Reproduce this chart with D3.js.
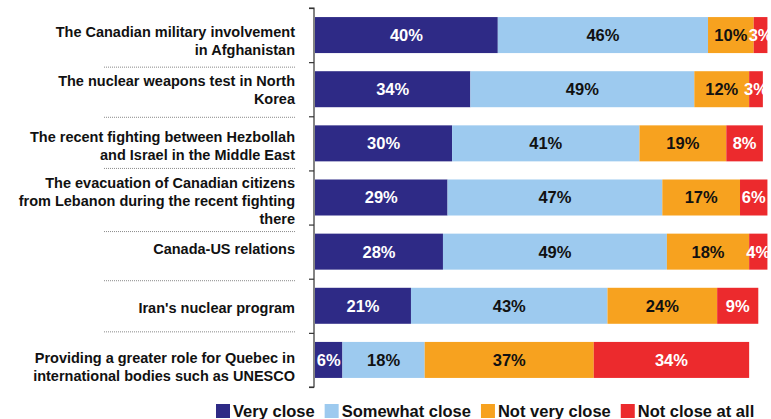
<!DOCTYPE html>
<html>
<head>
<meta charset="utf-8">
<script src="https://cdn.jsdelivr.net/npm/d3@7"></script>
<style>
  html, body { margin: 0; padding: 0; background: #fff; }
  svg { display: block; font-family: "Liberation Sans", Arial, Helvetica, sans-serif; }
</style>
</head>
<body>
<svg id="chart" width="771" height="419"></svg>
<script>
// Survey topics (each entry is a list of label lines)
const topics = [
  ["The Canadian military involvement", "in Afghanistan"],
  ["The nuclear weapons test in North", "Korea"],
  ["The recent fighting between Hezbollah", "and Israel in the Middle East"],
  ["The evacuation of Canadian citizens", "from Lebanon during the recent fighting", "there"],
  ["Canada-US relations"],
  ["Iran's nuclear program"],
  ["Providing a greater role for Quebec in", "international bodies such as UNESCO"]
];

const seriesNames = ["Very close", "Somewhat close", "Not very close", "Not close at all"];

// Percentages per topic, in series order
const veryClose     = [40, 34, 30, 29, 28, 21, 6];
const somewhatClose = [46, 49, 41, 47, 49, 43, 18];
const notVeryClose  = [10, 12, 19, 17, 18, 24, 37];
const notCloseAtAll = [3, 3, 8, 6, 4, 9, 34];

const colors = ["#2e2a86", "#9dcaef", "#f7a21f", "#ec2a2d"];
const textColors = ["#ffffff", "#111111", "#111111", "#ffffff"];

// small vertical nudges for the wrapped topic labels and separator rules
const labelShift = [6, 1, 2, 3, -3, 2, 7];
const ruleShift = [5, 1, -2, 7, 2, -1];

const rows = topics.map((t, i) => ({
  lines: t,
  values: [veryClose[i], somewhatClose[i], notVeryClose[i], notCloseAtAll[i]]
}));

const svg = d3.select("#chart");

const plotTop = 8, plotBottom = 387, axisX = 314;
const x = d3.scaleLinear().domain([0, 100]).range([axisX + 1, axisX + 1 + 457]);
const y = d3.scaleBand()
  .domain(d3.range(rows.length))
  .range([plotTop, plotBottom])
  .paddingInner(0.335)
  .paddingOuter(0.1675);

// Axis with ticks at the row boundaries
const yEdge = d3.scaleLinear().domain([0, rows.length]).range([plotTop, plotBottom]);
const axis = svg.append("g")
  .attr("transform", `translate(${axisX},0)`)
  .call(d3.axisLeft(yEdge).tickValues(d3.range(rows.length + 1)).tickSize(5).tickFormat(""));
axis.select(".domain").attr("stroke", "#333").attr("stroke-width", 1.2).attr("d", `M-5,${plotTop}H0V${plotBottom}H-5`);
axis.selectAll(".tick line").attr("stroke", "#333").attr("stroke-width", 1.2);

// Stacked bars
const stacked = rows.map(r => {
  let acc = 0;
  return r.values.map((v, k) => {
    const s = { x0: acc, x1: acc + v, v, k };
    acc += v;
    return s;
  });
});

const rowG = svg.append("g").selectAll("g")
  .data(stacked)
  .join("g")
  .attr("transform", (d, i) => `translate(0,${y(i)})`);

rowG.selectAll("rect")
  .data(d => d)
  .join("rect")
  .attr("x", d => x(d.x0))
  .attr("y", 0)
  .attr("width", d => x(d.x1) - x(d.x0))
  .attr("height", y.bandwidth())
  .attr("fill", d => colors[d.k]);

rowG.selectAll("text")
  .data(d => d)
  .join("text")
  .attr("x", d => (x(d.x0) + x(d.x1)) / 2)
  .attr("y", y.bandwidth() / 2)
  .attr("dy", "0.36em")
  .attr("text-anchor", "middle")
  .attr("font-size", 16.5)
  .attr("font-weight", "bold")
  .attr("fill", d => textColors[d.k])
  .text(d => d.v + "%");

// Topic labels
const lineH = 18;
const labelX = 295;
svg.append("g").selectAll("text")
  .data(rows)
  .join("text")
  .attr("text-anchor", "end")
  .attr("font-size", 14.5)
  .attr("font-weight", "bold")
  .attr("fill", "#111")
  .each(function(d, i) {
    const cy = y(i) + y.bandwidth() / 2 + labelShift[i];
    const n = d.lines.length;
    d3.select(this).selectAll("tspan")
      .data(d.lines)
      .join("tspan")
      .attr("x", labelX)
      .attr("y", (l, j) => cy + (j - (n - 1) / 2) * lineH)
      .attr("dy", "0.36em")
      .text(l => l);
  });

// Dotted rules between topic labels
svg.append("g").selectAll("line")
  .data(d3.range(1, rows.length))
  .join("line")
  .attr("x1", 104)
  .attr("x2", 296)
  .attr("y1", i => yEdge(i) + ruleShift[i - 1])
  .attr("y2", i => yEdge(i) + ruleShift[i - 1])
  .attr("stroke", "#8a8a8a")
  .attr("stroke-width", 1)
  .attr("stroke-dasharray", "1,1");

// Legend
const legend = svg.append("g").attr("transform", "translate(216,0)");
let lx = 0;
seriesNames.forEach((name, k) => {
  legend.append("rect")
    .attr("x", lx).attr("y", 404)
    .attr("width", 14).attr("height", 14)
    .attr("fill", colors[k]);
  const t = legend.append("text")
    .attr("x", lx + 17).attr("y", 417)
    .attr("font-size", 16.5)
    .attr("font-weight", "bold")
    .attr("fill", "#111")
    .text(name);
  lx += 17 + t.node().getComputedTextLength() + 10;
});
</script>
</body>
</html>
